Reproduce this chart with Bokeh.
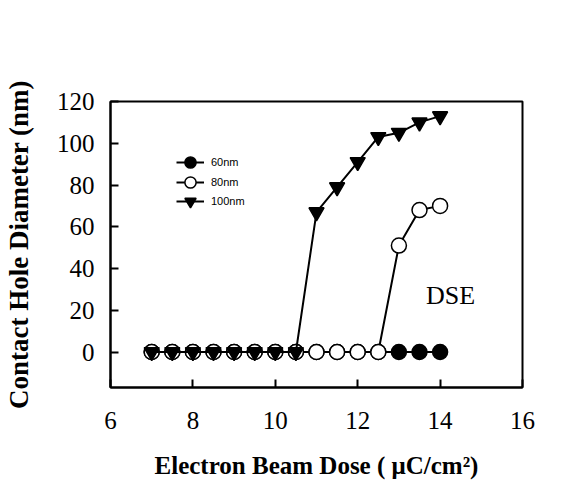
from bokeh.plotting import figure
from bokeh.models import Range1d, FixedTicker, Legend, LegendItem
from bokeh.embed import file_html
from bokeh.resources import INLINE
from bokeh.core.properties import value

dose = [7, 7.5, 8, 8.5, 9, 9.5, 10, 10.5, 11, 11.5, 12, 12.5, 13, 13.5, 14]
d60 = [0, 0, 0, 0, 0, 0, 0, 0, 0, 0, 0, 0, 0, 0, 0]
d80 = [0, 0, 0, 0, 0, 0, 0, 0, 0, 0, 0, 0, 51, 68, 70]
d100 = [0, 0, 0, 0, 0, 0, 0, 0, 67, 79, 91, 103, 105, 110, 113]
series_labels = ["60nm", "80nm", "100nm"]
x_ticks = [6, 8, 10, 12, 14, 16]
y_ticks = [0, 20, 40, 60, 80, 100, 120]

p = figure(width=573, height=486, output_backend="svg", toolbar_location=None,
           x_range=Range1d(6, 16), y_range=Range1d(-17, 120),
           min_border_left=110, min_border_right=51, min_border_top=101, min_border_bottom=99)
p.xgrid.visible = False
p.ygrid.visible = False
p.outline_line_color = "black"
p.outline_line_width = 2
p.background_fill_color = "white"
p.border_fill_color = "white"

serif = "Liberation Serif"
for ax in (p.xaxis[0], p.yaxis[0]):
    ax.axis_line_width = 2
    ax.major_tick_in = 8
    ax.major_tick_out = 0
    ax.minor_tick_in = 0
    ax.minor_tick_out = 0
    ax.major_tick_line_width = 2
    ax.major_label_text_font = serif
    ax.major_label_text_font_size = "25px"
    ax.major_label_text_color = "black"
    ax.axis_label_text_font = serif
    ax.axis_label_text_font_style = "bold"
    ax.axis_label_text_color = "black"

p.xaxis.axis_label_text_font_size = "25px"
p.yaxis.axis_label_text_font_size = "27px"
p.xaxis.ticker = FixedTicker(ticks=x_ticks)
p.yaxis.ticker = FixedTicker(ticks=y_ticks)
p.xaxis.axis_label = "Electron Beam Dose ( \u03bcC/cm\u00b2)"
p.yaxis.axis_label = "Contact Hole Diameter (nm)"
p.xaxis.major_label_standoff = 24
p.yaxis.major_label_standoff = 16
p.xaxis.axis_label_standoff = 20
p.yaxis.axis_label_standoff = 20

l60 = p.line(dose, d60, line_color="black", line_width=2)
s60 = p.scatter(dose, d60, marker="circle", size=15, fill_color="black", line_color="black", line_width=1.5)
l80 = p.line(dose, d80, line_color="black", line_width=2)
s80 = p.scatter(dose, d80, marker="circle", size=15, fill_color="white", line_color="black", line_width=1.5)
l100 = p.line(dose, d100, line_color="black", line_width=2)
s100 = p.scatter(dose, d100, marker="inverted_triangle", size=15, fill_color="black", line_color="black", line_width=1.5)

p.text(x=[13.66], y=[27], text=["DSE"], text_font=value(serif), text_font_size="26px",
       text_baseline="middle", text_align="left", text_color="black")

rend = [[l60, s60], [l80, s80], [l100, s100]]
offsets = [210, 190, 171]
for lab, rs, yo in zip(series_labels, rend, offsets):
    lg = Legend(items=[LegendItem(label=lab, renderers=rs)], location=(66, yo))
    lg.label_text_font = "Liberation Sans"
    lg.label_text_font_size = "11px"
    lg.label_text_color = "black"
    lg.glyph_width = 28
    lg.glyph_height = 30
    lg.label_height = 30
    lg.padding = 0
    lg.margin = 0
    lg.label_standoff = 7
    lg.border_line_alpha = 0
    lg.background_fill_alpha = 0
    p.add_layout(lg, "center")

open("out.html", "w").write(file_html(p, INLINE))
